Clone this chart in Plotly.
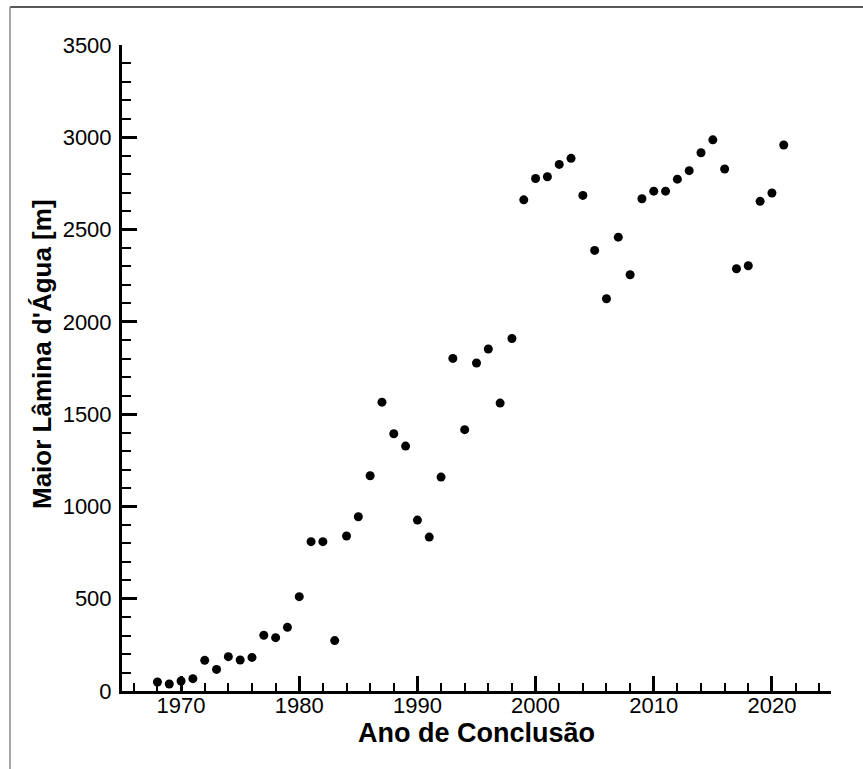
import plotly.graph_objects as go

# Year of completion and deepest water depth reached that year (m)
anos = list(range(1968, 2022))
lamina = [
    49, 38, 54, 67, 166, 117, 186, 168, 182, 302,
    289, 345, 511, 809, 809, 273, 840, 944, 1166, 1565,
    1394, 1327, 926, 834, 1159, 1802, 1416, 1777, 1853, 1560,
    1910, 2661, 2777, 2786, 2853, 2886, 2685, 2387, 2125, 2459,
    2255, 2667, 2708, 2708, 2773, 2819, 2916, 2986, 2828, 2288,
    2304, 2653, 2698, 2958,
]

x_ticks = [1970, 1980, 1990, 2000, 2010, 2020]
y_ticks = [0, 500, 1000, 1500, 2000, 2500, 3000, 3500]

FONT = "Liberation Sans, Arial, Helvetica, sans-serif"

# plot-area geometry in pixels
W, H = 863, 769
L, R, T, B = 122, 32, 45, 78
PW, PH = W - L - R, H - T - B


def px_x(x):
    return (x - L) / PW


def px_y(y):
    return (H - B - y) / PH


fig = go.Figure(
    go.Scatter(
        x=anos,
        y=lamina,
        mode="markers",
        marker=dict(color="black", size=9),
        showlegend=False,
    )
)

axis_common = dict(
    showgrid=False,
    zeroline=False,
    showline=True,
    linecolor="black",
    linewidth=3,
    ticks="inside",
    ticklen=15,
    tickwidth=3,
    tickcolor="black",
    tickfont=dict(family=FONT, size=22, color="black"),
)

fig.update_xaxes(
    **axis_common,
    range=[1965, 2025],
    tickvals=x_ticks,
    ticktext=[str(v) for v in x_ticks],
    ticklabelstandoff=-7,
    minor=dict(ticks="inside", dtick=2, tick0=1964, ticklen=8, tickwidth=1.5, tickcolor="black"),
)
fig.update_yaxes(
    **axis_common,
    range=[0, 3500],
    tickvals=y_ticks,
    ticktext=[str(v) for v in y_ticks],
    ticklabelstandoff=3,
    minor=dict(ticks="inside", dtick=100, tick0=0, ticklen=9, tickwidth=1.5, tickcolor="black"),
)

# Axis titles
fig.add_annotation(
    text="<b>Ano de Conclusão</b>", xref="paper", yref="paper",
    x=px_x(476), y=px_y(733), xanchor="center", yanchor="middle",
    showarrow=False, font=dict(family=FONT, size=27, color="black"),
)
fig.add_annotation(
    text="<b>Maior Lâmina d'Água [m]</b>", xref="paper", yref="paper",
    x=px_x(42), y=px_y(354), xanchor="center", yanchor="middle", textangle=-90,
    showarrow=False, font=dict(family=FONT, size=26, color="black"),
)

# Outer frame lines (top and left edges of the figure box)
fig.add_shape(type="line", xref="paper", yref="paper",
              x0=px_x(10), x1=px_x(W), y0=px_y(7), y1=px_y(7),
              line=dict(color="#222222", width=1.5))
fig.add_shape(type="line", xref="paper", yref="paper",
              x0=px_x(10), x1=px_x(10), y0=px_y(7), y1=px_y(H),
              line=dict(color="#888888", width=1.5))

fig.update_layout(
    width=W,
    height=H,
    margin=dict(l=L, r=R, t=T, b=B, autoexpand=False),
    paper_bgcolor="white",
    plot_bgcolor="white",
    font=dict(family=FONT, color="black"),
)

fig.write_html("out.html")
